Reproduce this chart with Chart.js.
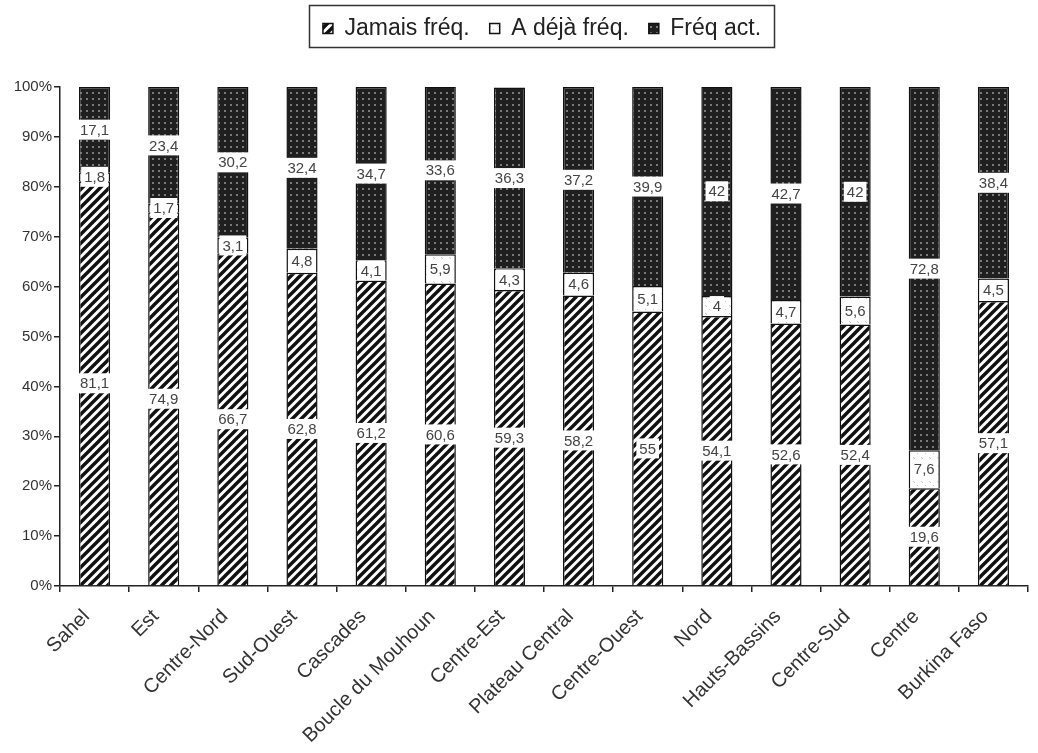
<!DOCTYPE html>
<html><head><meta charset="utf-8">
<script src="https://cdn.jsdelivr.net/npm/chart.js@4/dist/chart.umd.min.js"></script>
<style>html,body{margin:0;padding:0;background:#fff}#wrap{width:1038px;height:753px}</style>
</head><body><div id="wrap"><canvas id="c" width="1038" height="753"></canvas></div>
<script>
const categories = ['Sahel','Est','Centre-Nord','Sud-Ouest','Cascades','Boucle du Mouhoun','Centre-Est','Plateau Central','Centre-Ouest','Nord','Hauts-Bassins','Centre-Sud','Centre','Burkina Faso'];
const jamaisFreq = [81.1, 74.9, 66.7, 62.8, 61.2, 60.6, 59.3, 58.2, 55, 54.1, 52.6, 52.4, 19.6, 57.1];
const dejaFreq   = [1.8, 1.7, 3.1, 4.8, 4.1, 5.9, 4.3, 4.6, 5.1, 4, 4.7, 5.6, 7.6, 4.5];
const freqAct    = [17.1, 23.4, 30.2, 32.4, 34.7, 33.6, 36.3, 37.2, 39.9, 42, 42.7, 42, 72.8, 38.4];
const seriesNames = ['Jamais fréq.', 'A déjà fréq.', 'Fréq act.'];
const yTickValues = [0,10,20,30,40,50,60,70,80,90,100];

const FONT='"Liberation Sans", Arial, sans-serif';
const mainCtx = document.getElementById('c').getContext('2d');
function makeTile(size, draw){ const c=document.createElement('canvas'); c.width=c.height=size; const g=c.getContext('2d'); draw(g,size); return mainCtx.createPattern(c,'repeat'); }
const hatch = makeTile(9,(g,s)=>{ g.fillStyle='#fff'; g.fillRect(0,0,s,s); g.strokeStyle='#111'; g.lineWidth=3.4; g.lineCap='square';
  g.beginPath(); g.moveTo(-2,s+2); g.lineTo(s+2,-2); g.moveTo(-2,2); g.lineTo(2,-2); g.moveTo(s-2,s+2); g.lineTo(s+2,s-2); g.stroke(); });
const light = makeTile(8,(g,s)=>{ g.fillStyle='#fff'; g.fillRect(0,0,s,s); g.fillStyle='#c4c4c4'; g.fillRect(1,1,1,1); g.fillRect(5,5,1,1); g.fillRect(2,2,1,1); });
const dark = makeTile(6,(g,s)=>{ g.fillStyle='#1f1f1f'; g.fillRect(0,0,s,s); g.fillStyle='#7a7a7a'; g.fillRect(2,2,2,2); });

const labelPlugin = {
  id:'valLabels',
  afterDatasetsDraw(chart){
    const ctx=chart.ctx; ctx.save();
    ctx.font='15px '+FONT; ctx.textAlign='center'; ctx.textBaseline='middle';
    chart.data.datasets.forEach((ds,i)=>{
      const meta=chart.getDatasetMeta(i);
      meta.data.forEach((bar,j)=>{
        const p=bar.getProps(['x','y','base'],true);
        const txt=String(ds.data[j]).replace('.',',');
        const cy=(p.y+p.base)/2; const w=ctx.measureText(txt).width;
        ctx.fillStyle='#fff'; ctx.fillRect(p.x-w/2-3, cy-10, w+6, 20);
        ctx.fillStyle='#444'; ctx.fillText(txt, p.x, cy+1);
      });
    });
    ctx.restore();
  }
};
const LEG_SHIFT_Y = -9, LEG_SHIFT_X = 28;
const legendPlugin = {
  id:'legendBox',
  beforeUpdate(chart){ const lg=chart.legend; if(lg && !lg._patched){ const f=lg.fit; lg.fit=function(){ f.call(this); this.height=81; }; lg._patched=true; } },
  afterUpdate(chart){ const lg=chart.legend; if(!lg) return;
    lg.top+=LEG_SHIFT_Y; lg.bottom+=LEG_SHIFT_Y; lg.left+=LEG_SHIFT_X; lg.right+=LEG_SHIFT_X;
    (lg.legendHitBoxes||[]).forEach(h=>{h.top+=LEG_SHIFT_Y; h.left+=LEG_SHIFT_X;}); },
  afterDraw(chart){
    const hb=chart.legend && chart.legend.legendHitBoxes; if(!hb||!hb.length) return;
    let l=Infinity,r=-Infinity;
    hb.forEach(h=>{ l=Math.min(l,h.left); r=Math.max(r,h.left+h.width); });
    const ctx=chart.ctx; ctx.save(); ctx.strokeStyle='#333'; ctx.lineWidth=1.5;
    ctx.strokeRect(Math.round(l-14)+0.5, 5.5, Math.round(r-l+27), 42); ctx.restore();
  }
};

new Chart(mainCtx, {
  type:'bar',
  data:{ labels:categories, datasets:[
    {label:seriesNames[0], data:jamaisFreq, backgroundColor:hatch, borderColor:'#111', borderWidth:1.5},
    {label:seriesNames[1], data:dejaFreq, backgroundColor:light, borderColor:'#111', borderWidth:1.5},
    {label:seriesNames[2], data:freqAct, backgroundColor:dark, borderColor:'#111', borderWidth:1.5}
  ]},
  options:{
    responsive:false, animation:false,
    layout:{padding:{top:6,right:10,left:0,bottom:0}},
    datasets:{bar:{categoryPercentage:1, barPercentage:0.45}},
    plugins:{
      legend:{position:'top', labels:{font:{size:23,family:FONT}, color:'#222', boxWidth:10, boxHeight:10, padding:20}},
      tooltip:{enabled:false}
    },
    scales:{
      x:{stacked:true, border:{color:'#222',width:1.5},
        grid:{drawOnChartArea:false, tickLength:6, color:'#222', lineWidth:1.5, offset:true},
        ticks:{autoSkip:false, maxRotation:45, minRotation:45, padding:13, labelOffset:-8, color:'#333', font:{size:20,family:FONT}},
        afterFit(s){ s.height=167; }},
      y:{stacked:true, min:0, max:100, border:{color:'#222',width:1.5},
        grid:{drawOnChartArea:false, tickLength:6, color:'#222', lineWidth:1.5},
        afterBuildTicks(s){ s.ticks=yTickValues.map(v=>({value:v})); },
        ticks:{color:'#333', padding:2, font:{size:15,family:FONT}, callback:v=>v+'%'},
        afterFit(s){ s.width=60; }}
    }
  },
  plugins:[labelPlugin, legendPlugin]
});
</script></body></html>
